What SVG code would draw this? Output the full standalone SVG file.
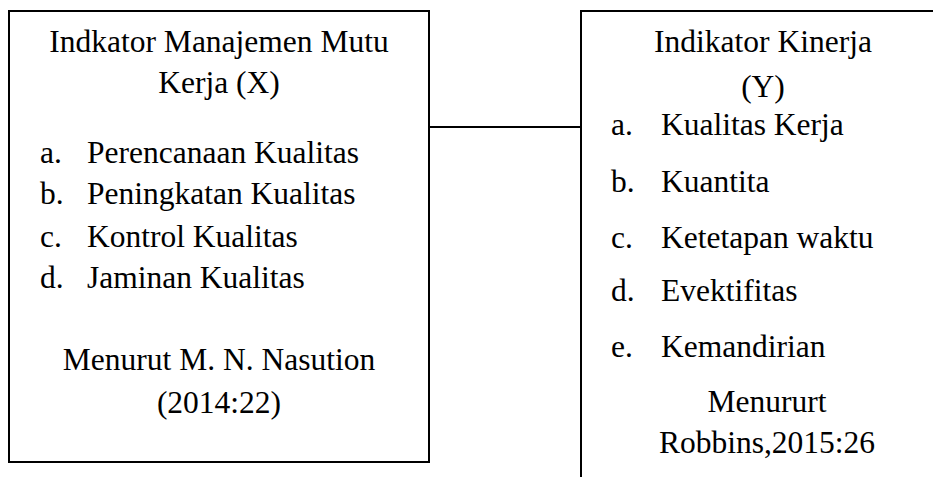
<svg xmlns="http://www.w3.org/2000/svg" width="933" height="477" viewBox="0 0 933 477">
<style>
.box{fill:#fff;stroke:#000;stroke-width:2}
text{font-family:'Liberation Serif',serif;font-size:31.5px;fill:#000}
.c{text-anchor:middle}
.conn{stroke:#000;stroke-width:2;fill:none}
</style>
<rect width="933" height="477" fill="#fff"/>
<g id="connectors">
<line class="conn" x1="429" y1="127" x2="581" y2="127"/>
</g>
<g id="nodeX">
<rect class="box" x="9" y="11" width="420" height="451"/>
<text class="c" x="219" y="52">Indkator Manajemen Mutu</text>
<text class="c" x="219" y="93">Kerja (X)</text>
<text x="40" y="163">a.</text><text x="87" y="163">Perencanaan Kualitas</text>
<text x="40" y="204">b.</text><text x="87" y="204">Peningkatan Kualitas</text>
<text x="40" y="247">c.</text><text x="87" y="247">Kontrol Kualitas</text>
<text x="40" y="288">d.</text><text x="87" y="288">Jaminan Kualitas</text>
<text class="c" x="219" y="370">Menurut M. N. Nasution</text>
<text class="c" x="219" y="413">(2014:22)</text>
</g>
<g id="nodeY">
<path class="box" d="M581,478 V11 H940"/>
<text class="c" x="763" y="52">Indikator Kinerja</text>
<text class="c" x="763" y="97">(Y)</text>
<text x="611" y="135">a.</text><text x="661" y="135">Kualitas Kerja</text>
<text x="611" y="192">b.</text><text x="661" y="192">Kuantita</text>
<text x="611" y="248">c.</text><text x="661" y="248">Ketetapan waktu</text>
<text x="611" y="301">d.</text><text x="661" y="301">Evektifitas</text>
<text x="611" y="357">e.</text><text x="661" y="357">Kemandirian</text>
<text class="c" x="767" y="412">Menururt</text>
<text class="c" x="767" y="453">Robbins,2015:26</text>
</g>
</svg>
